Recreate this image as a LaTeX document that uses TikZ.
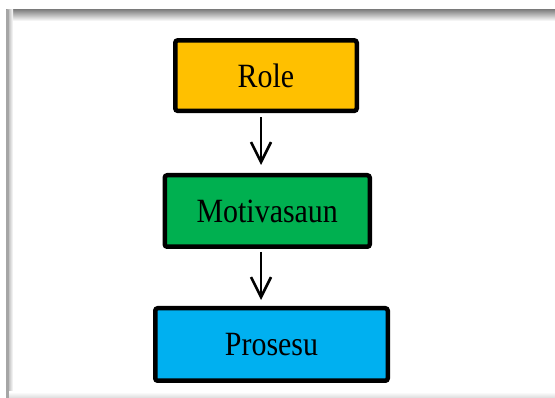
\documentclass[tikz,border=0pt]{standalone}
\usepackage{fontspec}
\usepackage{graphicx}
\setmainfont{Liberation Serif}
\usetikzlibrary{arrows.meta}
\definecolor{cOrange}{HTML}{FFC000}
\definecolor{cGreen}{HTML}{00B050}
\definecolor{cBlue}{HTML}{00B0F0}
\tikzset{
  box/.style={draw=black, line width=4.5pt, rounded corners=2.5pt, inner sep=0pt,
    font=\fontsize{34}{40}\selectfont},
  arr/.style={line width=2.6pt, -{Straight Barb[length=20pt,width=20pt,line width=2.6pt]}}
}
\newcommand{\sq}[1]{\scalebox{0.88}[1]{#1}}
\begin{document}
\begin{tikzpicture}[x=1pt,y=1pt]
\useasboundingbox (0,0) rectangle (555,-398);
\fill[white] (0,0) rectangle (555,-398);
% frame
\shade[top color=black!48, bottom color=white] (6,-10) rectangle (555,-21);
\shade[left color=black!40, right color=white] (6,-10) rectangle (13,-398);
\fill[black!35] (6,-10) rectangle (9,-398);
\shade[top color=white, bottom color=black!14] (9,-392) rectangle (555,-398);
% boxes
\node[box, fill=cOrange, minimum width=181.5, minimum height=70.5] (role) at (266,-75.6) {\sq{Role}};
\node[box, fill=cGreen, minimum width=205, minimum height=71.5] (mot) at (267.25,-211) {\sq{Motivasaun}};
\node[box, fill=cBlue, minimum width=232.5, minimum height=72.5] (pro) at (271.5,-344.5) {\sq{Prosesu}};
% arrows
\draw[arr] ([xshift=-5pt,yshift=-4pt]role.south) -- ([xshift=-6.25pt,yshift=8pt]mot.north);
\draw[arr] ([xshift=-6.25pt,yshift=-3pt]mot.south) -- ([xshift=-10.5pt,yshift=6pt]pro.north);
\end{tikzpicture}
\end{document}
